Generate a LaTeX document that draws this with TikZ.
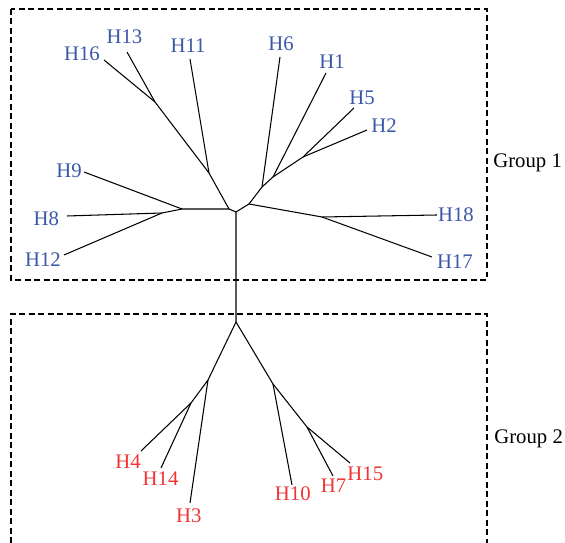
\documentclass[tikz,border=0pt]{standalone}
\usepackage{fontspec}
\setmainfont{Liberation Serif}
\definecolor{labblue}{RGB}{58,88,168}
\definecolor{labred}{RGB}{240,52,52}
\begin{document}
\begin{tikzpicture}[x=0.02cm,y=-0.02cm,
  branch/.style={line width=0.6pt,black},
  grpbox/.style={line width=0.6pt,dash pattern=on 3.4pt off 2pt},
  lab/.style={inner sep=0pt,anchor=center,font=\fontsize{11.8}{14}\selectfont},
  g1/.style={lab,text=labblue},
  g2/.style={lab,text=labred},
  grplab/.style={inner sep=0pt,anchor=base west,font=\fontsize{11.8}{14}\selectfont}]
\useasboundingbox (0,0) rectangle (565,543);
% group boxes
\draw[grpbox] (11,9) rectangle (487,280);
\draw[grpbox] (11,543) -- (11,314) -- (487,314) -- (487,543);
\node[grplab] (grp1) at (493,168) {Group 1};
\node[grplab] (grp2) at (494,444) {Group 2};
% internal coordinates
\coordinate (A) at (236,212);
\coordinate (B) at (229,209);
\coordinate (C) at (209,173);
\coordinate (D) at (155,102);
\coordinate (E) at (182,209);
\coordinate (F) at (162,213);
\coordinate (G) at (249,204);
\coordinate (I) at (322,217);
\coordinate (J) at (262,187);
\coordinate (K) at (273,177);
\coordinate (L) at (303,157);
\coordinate (M) at (236,322);
\coordinate (N) at (208,380);
\coordinate (O) at (191,403);
\coordinate (P) at (273,384);
\coordinate (Q) at (307,427);
% leaf ends
\coordinate (e16) at (104,60);
\coordinate (e13) at (127,52);
\coordinate (e11) at (190,59);
\coordinate (e9) at (84,172);
\coordinate (e8) at (67,216);
\coordinate (e12) at (64,255);
\coordinate (e6) at (280,57);
\coordinate (e1) at (326,73);
\coordinate (e5) at (354,108);
\coordinate (e2) at (367,130);
\coordinate (e18) at (437,215);
\coordinate (e17) at (432,257);
\coordinate (e4) at (141,451);
\coordinate (e14) at (161,468);
\coordinate (e3) at (190,503);
\coordinate (e10) at (292,485);
\coordinate (e7) at (333,476);
\coordinate (e15) at (350,463);
% labels
\node[g1] (H16) at (82,53.7) {H16};
\node[g1] (H13) at (124.5,37) {H13};
\node[g1] (H11) at (188,45.5) {H11};
\node[g1] (H6) at (281,43.3) {H6};
\node[g1] (H9) at (69,170.5) {H9};
\node[g1] (H8) at (46.3,218.3) {H8};
\node[g1] (H12) at (43,259.5) {H12};
\node[g1] (H1) at (332,61.5) {H1};
\node[g1] (H5) at (362,97.5) {H5};
\node[g1] (H2) at (384,126) {H2};
\node[g1] (H18) at (456,215) {H18};
\node[g1] (H17) at (455,262) {H17};
\node[g2] (H4) at (128,461.3) {H4};
\node[g2] (H14) at (160.6,478.8) {H14};
\node[g2] (H3) at (188.8,515.5) {H3};
\node[g2] (H10) at (292.8,493.3) {H10};
\node[g2] (H7) at (333.6,485.8) {H7};
\node[g2] (H15) at (365.3,473.5) {H15};
% branches
\draw[branch] (M) -- (A) -- (B) -- (C) -- (D) -- (e16);
\draw[branch] (D) -- (e13);
\draw[branch] (C) -- (e11);
\draw[branch] (B) -- (E) -- (e9);
\draw[branch] (E) -- (F) -- (e8);
\draw[branch] (F) -- (e12);
\draw[branch] (A) -- (G) -- (I) -- (e18);
\draw[branch] (I) -- (e17);
\draw[branch] (G) -- (J) -- (e6);
\draw[branch] (J) -- (K) -- (e1);
\draw[branch] (K) -- (L) -- (e5);
\draw[branch] (L) -- (e2);
\draw[branch] (M) -- (N) -- (O) -- (e4);
\draw[branch] (O) -- (e14);
\draw[branch] (N) -- (e3);
\draw[branch] (M) -- (P) -- (e10);
\draw[branch] (P) -- (Q) -- (e7);
\draw[branch] (Q) -- (e15);
\end{tikzpicture}
\end{document}
